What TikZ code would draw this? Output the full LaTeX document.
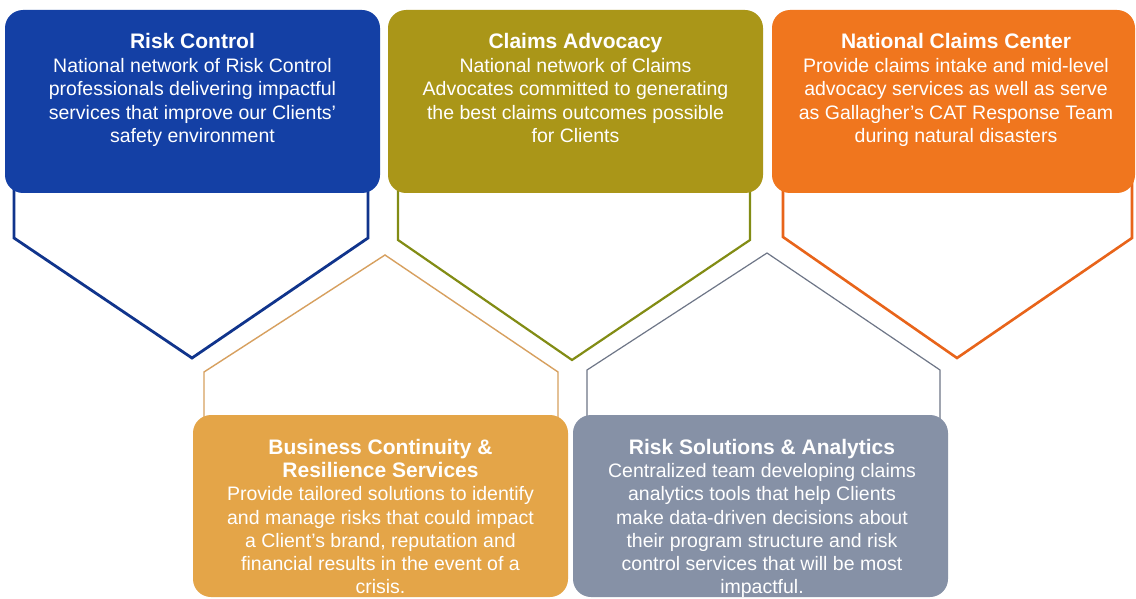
\documentclass[tikz,border=0pt]{standalone}
\usepackage{fontspec}
\setmainfont{Liberation Sans}
\definecolor{rcblue}{RGB}{20,64,165}
\definecolor{rcline}{RGB}{16,52,140}
\definecolor{caolive}{RGB}{170,150,24}
\definecolor{caline}{RGB}{130,140,20}
\definecolor{ncorange}{RGB}{240,118,30}
\definecolor{ncline}{RGB}{232,100,26}
\definecolor{bcgold}{RGB}{228,165,72}
\definecolor{bcline}{RGB}{215,160,95}
\definecolor{rsgray}{RGB}{134,145,166}
\definecolor{rsline}{RGB}{110,118,135}
\tikzset{
  panel/.style={rounded corners=18pt, draw=none, minimum width=375pt, inner sep=0pt},
  paneltext/.style={text=white, align=center, anchor=north, inner sep=0pt,
    font=\fontsize{19.5}{23.6}\selectfont},
  lowtext/.style={paneltext, font=\fontsize{19.5}{23.2}\selectfont},
  outline/.style={line join=miter, fill=none},
}
\newcommand{\ttl}[1]{{\fontsize{21}{23.6}\selectfont\bfseries #1}}
\begin{document}
\begin{tikzpicture}[x=1pt,y=-1pt]
\useasboundingbox[fill=white] (0,0) rectangle (1136,599);
% outlines
\draw[outline, draw=rcline, line width=2.8pt] (14,180) -- (14,238) -- (192,358) -- (368,238) -- (368,180);
\draw[outline, draw=caline, line width=2.2pt] (398,180) -- (398,240) -- (572,360) -- (750,240) -- (750,180);
\draw[outline, draw=ncline, line width=2.6pt] (783,180) -- (783,237) -- (957,358) -- (1132,238) -- (1132,180);
\draw[outline, draw=bcline, line width=1.4pt] (204,430) -- (204,372) -- (385,255) -- (558,372) -- (558,430);
\draw[outline, draw=rsline, line width=1.2pt] (587,430) -- (587,370) -- (767,253) -- (940,370) -- (940,430);
% panels
\node[panel, fill=rcblue, minimum width=375pt, minimum height=183pt] (rc) at (192.5,101.5) {};
\node[panel, fill=caolive, minimum width=375pt, minimum height=183pt] (ca) at (575.5,101.5) {};
\node[panel, fill=ncorange, minimum width=363pt, minimum height=183pt] (nc) at (953.5,101.5) {};
\node[panel, fill=bcgold, minimum width=375pt, minimum height=182pt] (bc) at (380.5,506) {};
\node[panel, fill=rsgray, minimum width=375pt, minimum height=182pt] (rs) at (760.5,506) {};
% texts
\node[paneltext] (rct) at (192.5,33) {\ttl{Risk Control}\\National network of Risk Control\\professionals delivering impactful\\services that improve our Clients'\\safety environment};
\node[paneltext] (cat) at (575.5,33) {\ttl{Claims Advocacy}\\National network of Claims\\Advocates committed to generating\\the best claims outcomes possible\\for Clients};
\node[paneltext] (nct) at (956,33) {\ttl{National Claims Center}\\Provide claims intake and mid-level\\advocacy services as well as serve\\as Gallagher's CAT Response Team\\during natural disasters};
\node[lowtext] (bct) at (380.5,439) {\ttl{Business Continuity \&}\\\ttl{Resilience Services}\\Provide tailored solutions to identify\\and manage risks that could impact\\a Client's brand, reputation and\\financial results in the event of a\\crisis.};
\node[lowtext] (rst) at (762,439) {\ttl{Risk Solutions \& Analytics}\\Centralized team developing claims\\analytics tools that help Clients\\make data-driven decisions about\\their program structure and risk\\control services that will be most\\impactful.};
\end{tikzpicture}
\end{document}
